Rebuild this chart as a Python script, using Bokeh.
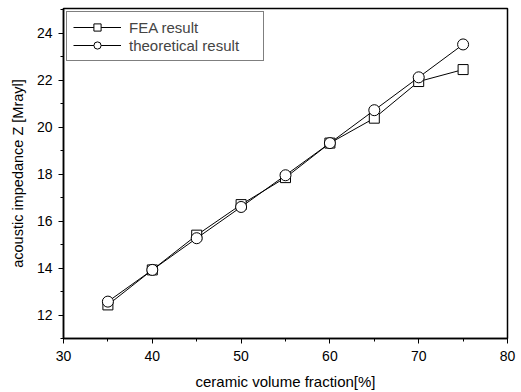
from bokeh.plotting import figure
from bokeh.models import SingleIntervalTicker, Range1d, Legend, LegendItem
from bokeh.embed import file_html
from bokeh.resources import INLINE

fraction = [35, 40, 45, 50, 55, 60, 65, 70, 75]
fea = [12.43, 13.92, 15.4, 16.7, 17.85, 19.32, 20.38, 21.94, 22.45]
theory = [12.57, 13.92, 15.27, 16.6, 17.95, 19.32, 20.72, 22.12, 23.52]

FONT = "Liberation Sans"

p = figure(width=521, height=392, output_backend="svg", toolbar_location=None,
           x_range=Range1d(30, 80), y_range=Range1d(11, 25.05),
           min_border_left=63, min_border_right=14, min_border_top=8, min_border_bottom=54)
p.xgrid.visible = False
p.ygrid.visible = False
p.outline_line_color = "black"
p.outline_line_width = 1.5
p.background_fill_color = "white"
p.border_fill_color = "white"

l1 = p.line(fraction, fea, line_color="black", line_width=1)
s1 = p.scatter(fraction, fea, marker="square", size=10, fill_color="white", line_color="black", line_width=1)
l2 = p.line(fraction, theory, line_color="black", line_width=1)
s2 = p.scatter(fraction, theory, marker="circle", size=11, fill_color="white", line_color="black", line_width=1)

p.xaxis.ticker = SingleIntervalTicker(interval=10, num_minor_ticks=2)
p.yaxis.ticker = SingleIntervalTicker(interval=2, num_minor_ticks=2)
for ax in (p.xaxis[0], p.yaxis[0]):
    ax.axis_line_width = 1.5
    ax.axis_line_color = "black"
    ax.major_tick_line_color = "black"
    ax.minor_tick_line_color = "black"
    ax.major_tick_in = 0
    ax.major_tick_out = 5
    ax.minor_tick_in = 0
    ax.minor_tick_out = 3
    ax.major_label_text_font = FONT
    ax.major_label_text_font_size = "14px"
    ax.major_label_text_color = "black"
    ax.axis_label_text_font = FONT
    ax.axis_label_text_font_style = "normal"
    ax.axis_label_text_color = "black"

p.xaxis.axis_label_text_font_size = "15px"
p.yaxis.axis_label_text_font_size = "14.5px"
p.xaxis.axis_label = "ceramic volume fraction[%]"
p.yaxis.axis_label = "acoustic impedance Z [Mrayl]"
p.xaxis.major_label_standoff = 7
p.xaxis.axis_label_standoff = 9
p.yaxis.major_label_standoff = 6
p.yaxis.axis_label_standoff = 8

legend = Legend(items=[LegendItem(label="FEA result", renderers=[l1, s1]),
                       LegendItem(label="theoretical result", renderers=[l2, s2])],
                location="top_left")
legend.margin = 3
legend.padding = 6
legend.spacing = 0
legend.glyph_width = 48
legend.glyph_height = 18
legend.label_text_font = FONT
legend.label_text_font_size = "15px"
legend.label_standoff = 8
legend.border_line_color = "black"
legend.border_line_width = 1
legend.background_fill_alpha = 1
legend.label_width = 128
p.add_layout(legend)

open("out.html", "w").write(file_html(p, INLINE))
